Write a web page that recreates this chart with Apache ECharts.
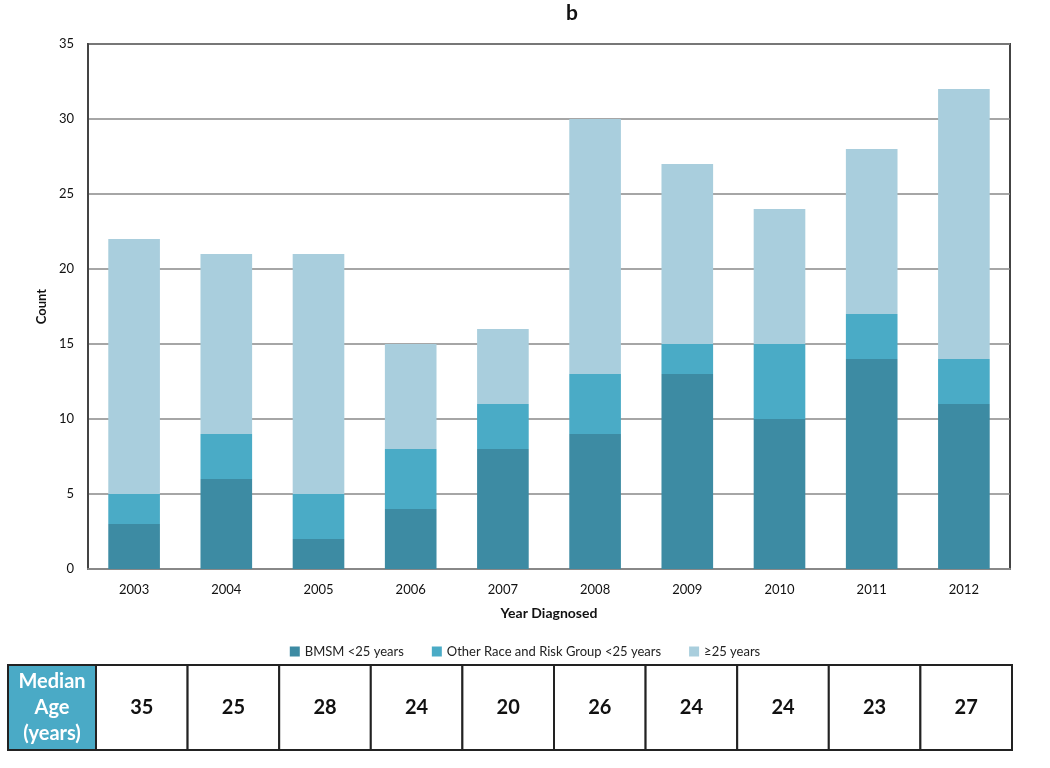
<!DOCTYPE html>
<html><head><meta charset="utf-8">
<script src="https://cdn.jsdelivr.net/npm/echarts@6/dist/echarts.min.js"></script>
<style>html,body{margin:0;padding:0;background:#fff}#c{width:1050px;height:768px}</style>
</head><body><div id="c"></div>
<script>
var years = ['2003','2004','2005','2006','2007','2008','2009','2010','2011','2012'];
var bmsm = [3,6,2,4,8,9,13,10,14,11];
var otherRace = [2,3,3,4,3,4,2,5,3,3];
var over25 = [17,12,16,7,5,17,12,9,11,18];
var medianAge = [35,25,28,24,20,26,24,24,23,27];
var yTicks = [0,5,10,15,20,25,30,35];

var FONT = 'Lato, "Open Sans", sans-serif';
var chart = echarts.init(document.getElementById('c'));

// table of median ages, built with graphic elements
var tX0 = 8, tX1 = 96, tX2 = 1012, tY = 665, tH = 85;
var cellW = (tX2 - tX1) / medianAge.length;
var graphics = [];
graphics.push({type:'rect', shape:{x:tX0, y:tY, width:tX1-tX0, height:tH},
  style:{fill:'#4aaac6', stroke:'#222', lineWidth:2}});
graphics.push({type:'text', x:(tX0+tX1)/2, y:tY+tH/2,
  style:{text:'Median\nAge\n(years)', fill:'#fff', font:'bold 20px '+FONT, align:'center', verticalAlign:'middle', lineHeight:26}});
medianAge.forEach(function(v,i){
  graphics.push({type:'rect', shape:{x:tX1+i*cellW, y:tY, width:cellW, height:tH},
    style:{fill:'#fff', stroke:'#222', lineWidth:2}});
  graphics.push({type:'text', x:tX1+i*cellW+cellW/2, y:tY+tH/2,
    style:{text:String(v), fill:'#111', font:'bold 20px '+FONT, align:'center', verticalAlign:'middle'}});
});

chart.setOption({
  animation:false,
  textStyle:{fontFamily:FONT},
  title:{text:'b', left:567, top:-2, textAlign:'center', textStyle:{fontSize:21, fontWeight:'bold', color:'#111', fontFamily:FONT}},
  legend:{bottom:105, left:'center', itemWidth:10, itemHeight:10, itemGap:28, icon:'rect',
    textStyle:{fontSize:13, color:'#222', fontFamily:FONT},
    data:['BMSM <25 years','Other Race and Risk Group <25 years','≥25 years']},
  grid:{left:88, right:40, top:44, bottom:199, show:true, borderColor:'#444', borderWidth:2, backgroundColor:'transparent'},
  xAxis:{type:'category', data:years, name:'Year Diagnosed', nameLocation:'middle', nameGap:37,
    nameTextStyle:{fontSize:14, fontWeight:'bold', color:'#111', fontFamily:FONT},
    axisLine:{lineStyle:{color:'#888', width:2}}, axisTick:{show:false},
    axisLabel:{fontSize:13, color:'#111', margin:14, fontFamily:FONT}},
  yAxis:{type:'value', min:0, max:35, interval:5, name:'Count', nameLocation:'middle', nameGap:40,
    nameTextStyle:{fontSize:13, fontWeight:'bold', color:'#111', fontFamily:FONT},
    axisLine:{show:true, lineStyle:{color:'#444', width:2}}, axisTick:{show:false},
    axisLabel:{fontSize:13, color:'#111', margin:14, fontFamily:FONT,
      formatter:function(v){return yTicks.indexOf(v)>=0 ? String(v) : '';}},
    splitLine:{lineStyle:{color:'#888', width:1.5}}},
  series:[
    {name:'BMSM <25 years', type:'bar', stack:'a', data:bmsm, barWidth:'56%', itemStyle:{color:'#3d8ba3'}},
    {name:'Other Race and Risk Group <25 years', type:'bar', stack:'a', data:otherRace, itemStyle:{color:'#4aabc6'}},
    {name:'≥25 years', type:'bar', stack:'a', data:over25, itemStyle:{color:'#a9cedd'}}
  ],
  graphic:graphics
});
</script></body></html>
